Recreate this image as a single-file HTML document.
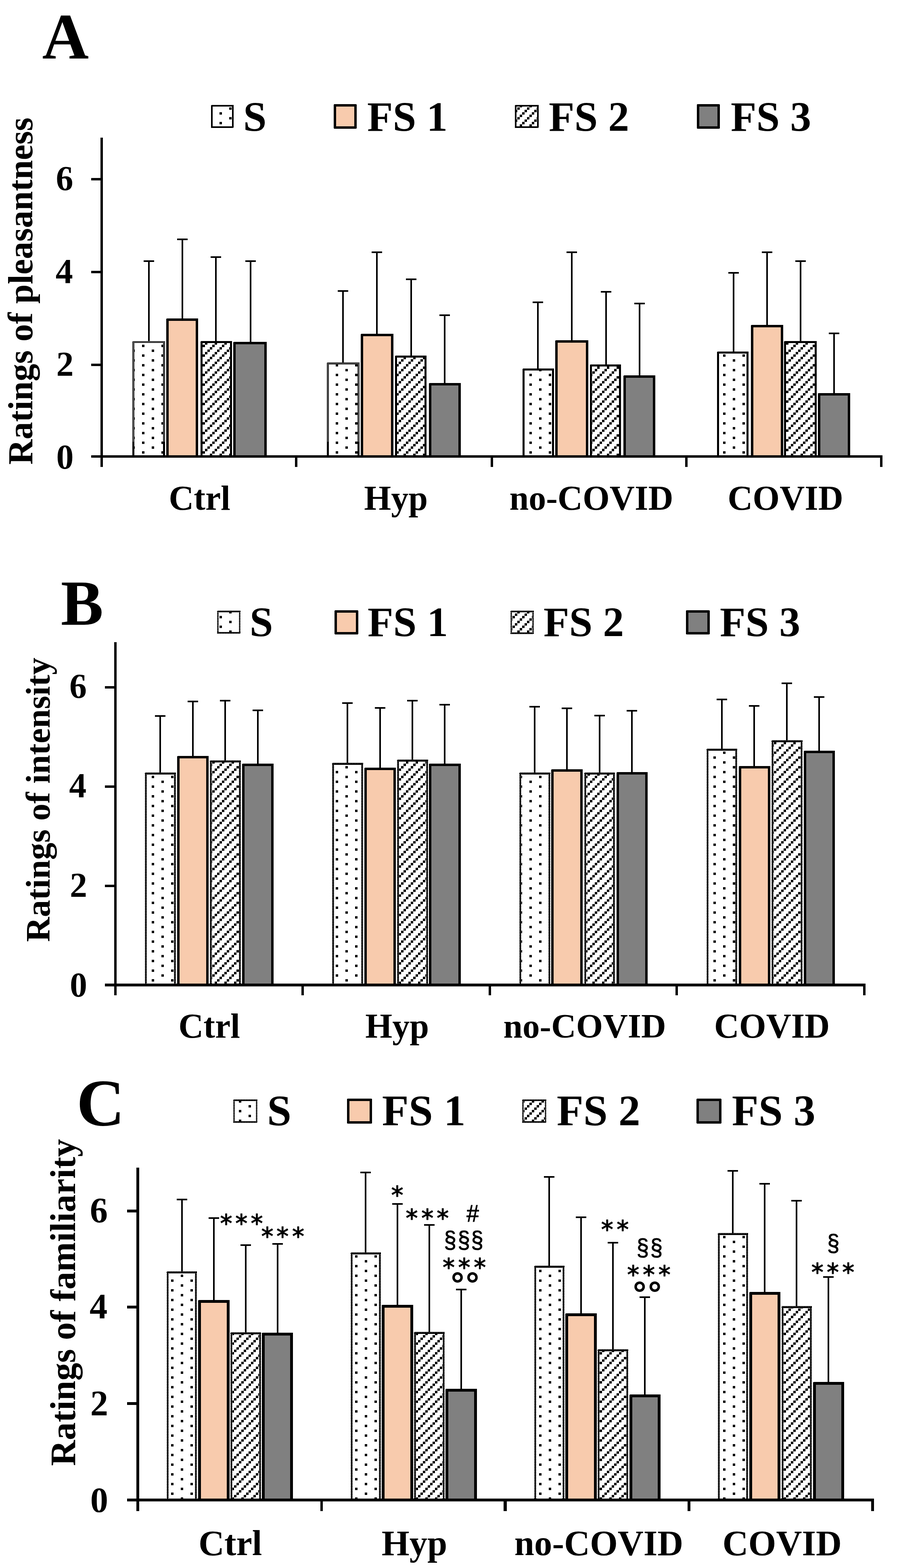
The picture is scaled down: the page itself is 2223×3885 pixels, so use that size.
<!DOCTYPE html>
<html lang="en"><head><meta charset="utf-8"><title>Ratings of pleasantness, intensity and familiarity</title>
<style>
html,body{margin:0;padding:0;background:#fff}
body{width:2223px;height:3885px}
svg{display:block}
text{font-family:"Liberation Serif","DejaVu Serif",serif;font-weight:bold;fill:#000}
.ann text,text.ann{font-family:"DejaVu Sans","Liberation Sans",sans-serif;font-weight:normal}
</style></head><body>
<svg width="2223" height="3885" viewBox="0 0 2223 3885" role="img" aria-label="Bar charts of ratings of pleasantness (A), intensity (B) and familiarity (C)">
<defs>
<pattern id="dots" x="16" y="14" width="48" height="24" patternUnits="userSpaceOnUse"><rect width="48" height="24" fill="#fff"/><rect x="0" y="0" width="6" height="6" fill="#000"/><rect x="24" y="12" width="6" height="6" fill="#000"/></pattern>
<pattern id="hatch" x="4" y="14" width="24" height="24" patternUnits="userSpaceOnUse"><rect width="24" height="24" fill="#fff"/><rect x="0" y="18" width="6" height="6" fill="#000"/><rect x="6" y="12" width="6" height="6" fill="#000"/><rect x="12" y="6" width="6" height="6" fill="#000"/><rect x="18" y="0" width="6" height="6" fill="#000"/></pattern>
<pattern id="dith" x="0" y="0" width="2" height="2" patternUnits="userSpaceOnUse"><rect width="2" height="2" fill="#000"/><rect x="1" y="1" width="1" height="1" fill="#fff"/></pattern>
</defs>
<rect width="2223" height="3885" fill="#fff"/>
<g shape-rendering="crispEdges">
<rect x="367" y="645" width="4" height="203" fill="#000"/>
<rect x="356" y="645" width="26" height="4" fill="#000"/>
<rect x="328" y="845" width="81" height="289" fill="url(#dith)" rx="2"/>
<rect x="333" y="850" width="71" height="279" fill="#fff"/>
<rect x="333" y="850" width="71" height="279" fill="url(#dots)"/>
<rect x="328" y="1095" width="5" height="39" fill="#000"/>
<rect x="404" y="1095" width="5" height="39" fill="#000"/>
<rect x="450" y="591" width="4" height="201" fill="#000"/>
<rect x="439" y="591" width="26" height="4" fill="#000"/>
<rect x="412" y="789" width="79" height="345" fill="#000" rx="2"/>
<rect x="418" y="795" width="67" height="333" fill="#fff"/>
<rect x="418" y="795" width="67" height="333" fill="#F8CBAD"/>
<rect x="533" y="635" width="4" height="213" fill="#000"/>
<rect x="522" y="635" width="26" height="4" fill="#000"/>
<rect x="497" y="845" width="78" height="289" fill="#000" rx="2"/>
<rect x="502" y="850" width="68" height="279" fill="#fff"/>
<rect x="502" y="850" width="68" height="279" fill="url(#hatch)"/>
<rect x="619" y="645" width="4" height="205" fill="#000"/>
<rect x="608" y="645" width="26" height="4" fill="#000"/>
<rect x="578" y="847" width="83" height="287" fill="#000" rx="2"/>
<rect x="584" y="853" width="71" height="275" fill="#fff"/>
<rect x="584" y="853" width="71" height="275" fill="#808080"/>
<rect x="848" y="719" width="4" height="182" fill="#000"/>
<rect x="837" y="719" width="26" height="4" fill="#000"/>
<rect x="810" y="898" width="81" height="236" fill="url(#dith)" rx="2"/>
<rect x="815" y="903" width="71" height="226" fill="#fff"/>
<rect x="815" y="903" width="71" height="226" fill="url(#dots)"/>
<rect x="810" y="1095" width="5" height="39" fill="#000"/>
<rect x="886" y="1095" width="5" height="39" fill="#000"/>
<rect x="932" y="623" width="4" height="207" fill="#000"/>
<rect x="921" y="623" width="26" height="4" fill="#000"/>
<rect x="894" y="827" width="81" height="307" fill="#000" rx="2"/>
<rect x="900" y="833" width="69" height="295" fill="#fff"/>
<rect x="900" y="833" width="69" height="295" fill="#F8CBAD"/>
<rect x="1017" y="690" width="4" height="194" fill="#000"/>
<rect x="1006" y="690" width="26" height="4" fill="#000"/>
<rect x="979" y="881" width="78" height="253" fill="#000" rx="2"/>
<rect x="984" y="886" width="68" height="243" fill="#fff"/>
<rect x="984" y="886" width="68" height="243" fill="url(#hatch)"/>
<rect x="1100" y="779" width="4" height="173" fill="#000"/>
<rect x="1089" y="779" width="26" height="4" fill="#000"/>
<rect x="1063" y="949" width="79" height="185" fill="#000" rx="2"/>
<rect x="1069" y="955" width="67" height="173" fill="#fff"/>
<rect x="1069" y="955" width="67" height="173" fill="#808080"/>
<rect x="1331" y="747" width="4" height="169" fill="#000"/>
<rect x="1320" y="747" width="26" height="4" fill="#000"/>
<rect x="1295" y="913" width="78" height="221" fill="#000" rx="2"/>
<rect x="1300" y="918" width="68" height="211" fill="#fff"/>
<rect x="1300" y="918" width="68" height="211" fill="url(#dots)"/>
<rect x="1415" y="623" width="4" height="223" fill="#000"/>
<rect x="1404" y="623" width="26" height="4" fill="#000"/>
<rect x="1376" y="843" width="82" height="291" fill="#000" rx="2"/>
<rect x="1382" y="849" width="70" height="279" fill="#fff"/>
<rect x="1382" y="849" width="70" height="279" fill="#F8CBAD"/>
<rect x="1500" y="721" width="4" height="185" fill="#000"/>
<rect x="1489" y="721" width="26" height="4" fill="#000"/>
<rect x="1462" y="903" width="77" height="231" fill="#000" rx="2"/>
<rect x="1467" y="908" width="67" height="221" fill="#fff"/>
<rect x="1467" y="908" width="67" height="221" fill="url(#hatch)"/>
<rect x="1583" y="750" width="4" height="183" fill="#000"/>
<rect x="1572" y="750" width="26" height="4" fill="#000"/>
<rect x="1545" y="930" width="79" height="204" fill="#000" rx="2"/>
<rect x="1551" y="936" width="67" height="192" fill="#fff"/>
<rect x="1551" y="936" width="67" height="192" fill="#808080"/>
<rect x="1816" y="674" width="4" height="200" fill="#000"/>
<rect x="1805" y="674" width="26" height="4" fill="#000"/>
<rect x="1777" y="871" width="78" height="263" fill="#000" rx="2"/>
<rect x="1782" y="876" width="68" height="253" fill="#fff"/>
<rect x="1782" y="876" width="68" height="253" fill="url(#dots)"/>
<rect x="1899" y="623" width="4" height="185" fill="#000"/>
<rect x="1888" y="623" width="26" height="4" fill="#000"/>
<rect x="1861" y="805" width="80" height="329" fill="#000" rx="2"/>
<rect x="1867" y="811" width="68" height="317" fill="#fff"/>
<rect x="1867" y="811" width="68" height="317" fill="#F8CBAD"/>
<rect x="1982" y="645" width="4" height="203" fill="#000"/>
<rect x="1971" y="645" width="26" height="4" fill="#000"/>
<rect x="1943" y="845" width="81" height="289" fill="#000" rx="2"/>
<rect x="1948" y="850" width="71" height="279" fill="#fff"/>
<rect x="1948" y="850" width="71" height="279" fill="url(#hatch)"/>
<rect x="2065" y="824" width="4" height="153" fill="#000"/>
<rect x="2054" y="824" width="26" height="4" fill="#000"/>
<rect x="2027" y="974" width="80" height="160" fill="#000" rx="2"/>
<rect x="2033" y="980" width="68" height="148" fill="#fff"/>
<rect x="2033" y="980" width="68" height="148" fill="#808080"/>
<rect x="249" y="341" width="6" height="816" fill="#000"/>
<rect x="226" y="1128" width="1961" height="6" fill="#000"/>
<rect x="226" y="441" width="24" height="6" fill="#000"/>
<rect x="226" y="671" width="24" height="6" fill="#000"/>
<rect x="226" y="901" width="24" height="6" fill="#000"/>
<rect x="731" y="1128" width="6" height="29" fill="#000"/>
<rect x="1216" y="1128" width="6" height="29" fill="#000"/>
<rect x="1698" y="1128" width="6" height="29" fill="#000"/>
<rect x="2181" y="1128" width="6" height="29" fill="#000"/>
<text x="138.58" y="470.60" font-size="86">6</text>
<text x="137.72" y="700.60" font-size="86">4</text>
<text x="139.44" y="930.60" font-size="86">2</text>
<text x="139.44" y="1160.60" font-size="86">0</text>
<text x="418.20" y="1263.00" font-size="86">Ctrl</text>
<text x="902.28" y="1263.00" font-size="86">Hyp</text>
<text x="1262.42" y="1263.00" font-size="86">no-COVID</text>
<text x="1803.20" y="1263.00" font-size="86">COVID</text>
<text transform="translate(80.20 1151.33) rotate(-90)" font-size="86.5">Ratings of pleasantness</text>
<text x="104.40" y="145.00" font-size="160">A</text>
<rect x="523" y="260" width="56" height="57" fill="#000" rx="2"/>
<rect x="527" y="264" width="48" height="49" fill="#fff"/>
<rect x="527" y="264" width="48" height="49" fill="url(#dots)"/>
<text x="602.80" y="324.00" font-size="104">S</text>
<rect x="827" y="258" width="57" height="61" fill="#000" rx="3"/>
<rect x="833" y="264" width="45" height="49" fill="#fff"/>
<rect x="833" y="264" width="45" height="49" fill="#F8CBAD"/>
<text x="909.92" y="324.00" font-size="104">FS 1</text>
<rect x="1276" y="260" width="59" height="57" fill="#000" rx="2"/>
<rect x="1280" y="264" width="51" height="49" fill="#fff"/>
<rect x="1280" y="264" width="51" height="49" fill="url(#hatch)"/>
<text x="1359.92" y="324.00" font-size="104">FS 2</text>
<rect x="1727" y="258" width="57" height="61" fill="#000" rx="3"/>
<rect x="1733" y="264" width="45" height="49" fill="#fff"/>
<rect x="1733" y="264" width="45" height="49" fill="#808080"/>
<text x="1810.92" y="324.00" font-size="104">FS 3</text>
<rect x="395" y="1772" width="4" height="145" fill="#000"/>
<rect x="384" y="1772" width="26" height="4" fill="#000"/>
<rect x="359" y="1914" width="77" height="530" fill="#000" rx="2"/>
<rect x="364" y="1919" width="67" height="520" fill="#fff"/>
<rect x="364" y="1919" width="67" height="520" fill="url(#dots)"/>
<path d="M360.5 1915.5H434.5" fill="none" stroke="#fff" stroke-width="1" stroke-dasharray="1 3"/>
<path d="M359.5 1919V2444M363.5 1919V2444M431.5 1919V2444M435.5 1919V2444" fill="none" stroke="#fff" stroke-width="1" stroke-dasharray="1.5 2.5"/>
<rect x="476" y="1736" width="4" height="140" fill="#000"/>
<rect x="465" y="1736" width="26" height="4" fill="#000"/>
<rect x="439" y="1873" width="78" height="571" fill="#000" rx="2"/>
<rect x="445" y="1879" width="66" height="559" fill="#fff"/>
<rect x="445" y="1879" width="66" height="559" fill="#F8CBAD"/>
<rect x="556" y="1734" width="4" height="153" fill="#000"/>
<rect x="545" y="1734" width="26" height="4" fill="#000"/>
<rect x="520" y="1884" width="77" height="560" fill="#000" rx="2"/>
<rect x="525" y="1889" width="67" height="550" fill="#fff"/>
<rect x="525" y="1889" width="67" height="550" fill="url(#hatch)"/>
<path d="M521.5 1885.5H595.5" fill="none" stroke="#fff" stroke-width="1" stroke-dasharray="1 3"/>
<path d="M520.5 1889V2444M524.5 1889V2444M592.5 1889V2444M596.5 1889V2444" fill="none" stroke="#fff" stroke-width="1" stroke-dasharray="1.5 2.5"/>
<rect x="637" y="1758" width="4" height="137" fill="#000"/>
<rect x="626" y="1758" width="26" height="4" fill="#000"/>
<rect x="600" y="1892" width="78" height="552" fill="#000" rx="2"/>
<rect x="606" y="1898" width="66" height="540" fill="#fff"/>
<rect x="606" y="1898" width="66" height="540" fill="#808080"/>
<rect x="859" y="1740" width="4" height="153" fill="#000"/>
<rect x="848" y="1740" width="26" height="4" fill="#000"/>
<rect x="823" y="1890" width="77" height="554" fill="#000" rx="2"/>
<rect x="828" y="1895" width="67" height="544" fill="#fff"/>
<rect x="828" y="1895" width="67" height="544" fill="url(#dots)"/>
<path d="M824.5 1891.5H898.5" fill="none" stroke="#fff" stroke-width="1" stroke-dasharray="1 3"/>
<path d="M823.5 1895V2444M827.5 1895V2444M895.5 1895V2444M899.5 1895V2444" fill="none" stroke="#fff" stroke-width="1" stroke-dasharray="1.5 2.5"/>
<rect x="940" y="1752" width="4" height="153" fill="#000"/>
<rect x="929" y="1752" width="26" height="4" fill="#000"/>
<rect x="903" y="1902" width="78" height="542" fill="#000" rx="2"/>
<rect x="909" y="1908" width="66" height="530" fill="#fff"/>
<rect x="909" y="1908" width="66" height="530" fill="#F8CBAD"/>
<rect x="1020" y="1734" width="4" height="151" fill="#000"/>
<rect x="1009" y="1734" width="26" height="4" fill="#000"/>
<rect x="984" y="1882" width="77" height="562" fill="#000" rx="2"/>
<rect x="989" y="1887" width="67" height="552" fill="#fff"/>
<rect x="989" y="1887" width="67" height="552" fill="url(#hatch)"/>
<path d="M985.5 1883.5H1059.5" fill="none" stroke="#fff" stroke-width="1" stroke-dasharray="1 3"/>
<path d="M984.5 1887V2444M988.5 1887V2444M1056.5 1887V2444M1060.5 1887V2444" fill="none" stroke="#fff" stroke-width="1" stroke-dasharray="1.5 2.5"/>
<rect x="1100" y="1744" width="4" height="151" fill="#000"/>
<rect x="1089" y="1744" width="26" height="4" fill="#000"/>
<rect x="1063" y="1892" width="79" height="552" fill="#000" rx="2"/>
<rect x="1069" y="1898" width="67" height="540" fill="#fff"/>
<rect x="1069" y="1898" width="67" height="540" fill="#808080"/>
<rect x="1323" y="1749" width="4" height="168" fill="#000"/>
<rect x="1312" y="1749" width="26" height="4" fill="#000"/>
<rect x="1287" y="1914" width="77" height="530" fill="#000" rx="2"/>
<rect x="1292" y="1919" width="67" height="520" fill="#fff"/>
<rect x="1292" y="1919" width="67" height="520" fill="url(#dots)"/>
<path d="M1288.5 1915.5H1362.5" fill="none" stroke="#fff" stroke-width="1" stroke-dasharray="1 3"/>
<path d="M1287.5 1919V2444M1291.5 1919V2444M1359.5 1919V2444M1363.5 1919V2444" fill="none" stroke="#fff" stroke-width="1" stroke-dasharray="1.5 2.5"/>
<rect x="1403" y="1753" width="4" height="156" fill="#000"/>
<rect x="1392" y="1753" width="26" height="4" fill="#000"/>
<rect x="1366" y="1906" width="78" height="538" fill="#000" rx="2"/>
<rect x="1372" y="1912" width="66" height="526" fill="#fff"/>
<rect x="1372" y="1912" width="66" height="526" fill="#F8CBAD"/>
<rect x="1484" y="1771" width="4" height="146" fill="#000"/>
<rect x="1473" y="1771" width="26" height="4" fill="#000"/>
<rect x="1448" y="1914" width="76" height="530" fill="#000" rx="2"/>
<rect x="1453" y="1919" width="66" height="520" fill="#fff"/>
<rect x="1453" y="1919" width="66" height="520" fill="url(#hatch)"/>
<path d="M1449.5 1915.5H1522.5" fill="none" stroke="#fff" stroke-width="1" stroke-dasharray="1 3"/>
<path d="M1448.5 1919V2444M1452.5 1919V2444M1519.5 1919V2444M1523.5 1919V2444" fill="none" stroke="#fff" stroke-width="1" stroke-dasharray="1.5 2.5"/>
<rect x="1564" y="1759" width="4" height="157" fill="#000"/>
<rect x="1553" y="1759" width="26" height="4" fill="#000"/>
<rect x="1528" y="1913" width="77" height="531" fill="#000" rx="2"/>
<rect x="1534" y="1919" width="65" height="519" fill="#fff"/>
<rect x="1534" y="1919" width="65" height="519" fill="#808080"/>
<rect x="1787" y="1731" width="4" height="127" fill="#000"/>
<rect x="1776" y="1731" width="26" height="4" fill="#000"/>
<rect x="1751" y="1855" width="76" height="589" fill="#000" rx="2"/>
<rect x="1756" y="1860" width="66" height="579" fill="#fff"/>
<rect x="1756" y="1860" width="66" height="579" fill="url(#dots)"/>
<path d="M1752.5 1856.5H1825.5" fill="none" stroke="#fff" stroke-width="1" stroke-dasharray="1 3"/>
<path d="M1751.5 1860V2444M1755.5 1860V2444M1822.5 1860V2444M1826.5 1860V2444" fill="none" stroke="#fff" stroke-width="1" stroke-dasharray="1.5 2.5"/>
<rect x="1867" y="1747" width="4" height="154" fill="#000"/>
<rect x="1856" y="1747" width="26" height="4" fill="#000"/>
<rect x="1831" y="1898" width="78" height="546" fill="#000" rx="2"/>
<rect x="1837" y="1904" width="66" height="534" fill="#fff"/>
<rect x="1837" y="1904" width="66" height="534" fill="#F8CBAD"/>
<rect x="1948" y="1691" width="4" height="146" fill="#000"/>
<rect x="1937" y="1691" width="26" height="4" fill="#000"/>
<rect x="1912" y="1834" width="77" height="610" fill="#000" rx="2"/>
<rect x="1917" y="1839" width="67" height="600" fill="#fff"/>
<rect x="1917" y="1839" width="67" height="600" fill="url(#hatch)"/>
<path d="M1913.5 1835.5H1987.5" fill="none" stroke="#fff" stroke-width="1" stroke-dasharray="1 3"/>
<path d="M1912.5 1839V2444M1916.5 1839V2444M1984.5 1839V2444M1988.5 1839V2444" fill="none" stroke="#fff" stroke-width="1" stroke-dasharray="1.5 2.5"/>
<rect x="2028" y="1725" width="4" height="138" fill="#000"/>
<rect x="2017" y="1725" width="26" height="4" fill="#000"/>
<rect x="1992" y="1860" width="77" height="584" fill="#000" rx="2"/>
<rect x="1998" y="1866" width="65" height="572" fill="#fff"/>
<rect x="1998" y="1866" width="65" height="572" fill="#808080"/>
<rect x="283" y="1591" width="6" height="875" fill="#000"/>
<rect x="260" y="2437" width="1885" height="7" fill="#000"/>
<rect x="260" y="1700" width="24" height="6" fill="#000"/>
<rect x="260" y="1946" width="24" height="6" fill="#000"/>
<rect x="260" y="2192" width="24" height="6" fill="#000"/>
<rect x="747" y="2437" width="6" height="29" fill="#000"/>
<rect x="1211" y="2437" width="6" height="29" fill="#000"/>
<rect x="1674" y="2437" width="6" height="29" fill="#000"/>
<rect x="2139" y="2437" width="6" height="29" fill="#000"/>
<text x="172.08" y="1729.20" font-size="86">6</text>
<text x="171.22" y="1975.00" font-size="86">4</text>
<text x="172.94" y="2221.60" font-size="86">2</text>
<text x="172.94" y="2468.60" font-size="86">0</text>
<text x="442.20" y="2570.70" font-size="86">Ctrl</text>
<text x="905.28" y="2570.70" font-size="86">Hyp</text>
<text x="1247.44" y="2570.70" font-size="85.4">no-COVID</text>
<text x="1769.70" y="2570.70" font-size="86">COVID</text>
<text transform="translate(123.10 2333.80) rotate(-90)" font-size="85.1">Ratings of intensity</text>
<text x="150.84" y="1547.50" font-size="158">B</text>
<rect x="538" y="1513" width="58" height="57" fill="#000" rx="2"/>
<rect x="542" y="1517" width="50" height="49" fill="#fff"/>
<rect x="542" y="1517" width="50" height="49" fill="url(#dots)"/>
<path d="M539.5 1514.5H594.5M539.5 1568.5H594.5" fill="none" stroke="#fff" stroke-width="1" stroke-dasharray="1 3"/>
<path d="M538.5 1517V1566M541.5 1517V1566M592.5 1517V1566M595.5 1517V1566" fill="none" stroke="#fff" stroke-width="1" stroke-dasharray="1.5 2.5"/>
<text x="618.80" y="1576.00" font-size="104">S</text>
<rect x="829" y="1512" width="59" height="60" fill="#000" rx="3"/>
<rect x="835" y="1518" width="47" height="48" fill="#fff"/>
<rect x="835" y="1518" width="47" height="48" fill="#F8CBAD"/>
<text x="910.92" y="1576.00" font-size="104">FS 1</text>
<rect x="1265" y="1513" width="58" height="58" fill="#000" rx="2"/>
<rect x="1269" y="1517" width="50" height="50" fill="#fff"/>
<rect x="1269" y="1517" width="50" height="50" fill="url(#hatch)"/>
<path d="M1266.5 1514.5H1321.5M1266.5 1569.5H1321.5" fill="none" stroke="#fff" stroke-width="1" stroke-dasharray="1 3"/>
<path d="M1265.5 1517V1567M1268.5 1517V1567M1319.5 1517V1567M1322.5 1517V1567" fill="none" stroke="#fff" stroke-width="1" stroke-dasharray="1.5 2.5"/>
<text x="1346.92" y="1576.00" font-size="104">FS 2</text>
<rect x="1700" y="1512" width="59" height="60" fill="#000" rx="3"/>
<rect x="1706" y="1518" width="47" height="48" fill="#fff"/>
<rect x="1706" y="1518" width="47" height="48" fill="#808080"/>
<text x="1783.92" y="1576.00" font-size="104">FS 3</text>
<rect x="449" y="2970" width="4" height="183" fill="#000"/>
<rect x="438" y="2970" width="26" height="4" fill="#000"/>
<rect x="413" y="3150" width="75" height="570" fill="#000" rx="2"/>
<rect x="418" y="3155" width="65" height="560" fill="#fff"/>
<rect x="418" y="3155" width="65" height="560" fill="url(#dots)"/>
<path d="M414.5 3151.5H486.5" fill="none" stroke="#fff" stroke-width="1" stroke-dasharray="1 3"/>
<path d="M413.5 3155V3720M417.5 3155V3720M483.5 3155V3720M487.5 3155V3720" fill="none" stroke="#fff" stroke-width="1" stroke-dasharray="1.5 2.5"/>
<rect x="528" y="3016" width="4" height="208" fill="#000"/>
<rect x="517" y="3016" width="26" height="4" fill="#000"/>
<rect x="491" y="3221" width="78" height="499" fill="#000" rx="2"/>
<rect x="498" y="3228" width="64" height="485" fill="#fff"/>
<rect x="498" y="3228" width="64" height="485" fill="#F8CBAD"/>
<rect x="607" y="3083" width="4" height="221" fill="#000"/>
<rect x="596" y="3083" width="26" height="4" fill="#000"/>
<rect x="571" y="3301" width="76" height="419" fill="#000" rx="2"/>
<rect x="576" y="3306" width="66" height="409" fill="#fff"/>
<rect x="576" y="3306" width="66" height="409" fill="url(#hatch)"/>
<path d="M572.5 3302.5H645.5" fill="none" stroke="#fff" stroke-width="1" stroke-dasharray="1 3"/>
<path d="M571.5 3306V3720M575.5 3306V3720M642.5 3306V3720M646.5 3306V3720" fill="none" stroke="#fff" stroke-width="1" stroke-dasharray="1.5 2.5"/>
<rect x="686" y="3080" width="4" height="225" fill="#000"/>
<rect x="675" y="3080" width="26" height="4" fill="#000"/>
<rect x="649" y="3302" width="77" height="418" fill="#000" rx="2"/>
<rect x="656" y="3309" width="63" height="404" fill="#fff"/>
<rect x="656" y="3309" width="63" height="404" fill="#808080"/>
<rect x="904" y="2903" width="4" height="203" fill="#000"/>
<rect x="893" y="2903" width="26" height="4" fill="#000"/>
<rect x="869" y="3103" width="75" height="617" fill="#000" rx="2"/>
<rect x="874" y="3108" width="65" height="607" fill="#fff"/>
<rect x="874" y="3108" width="65" height="607" fill="url(#dots)"/>
<path d="M870.5 3104.5H942.5" fill="none" stroke="#fff" stroke-width="1" stroke-dasharray="1 3"/>
<path d="M869.5 3108V3720M873.5 3108V3720M939.5 3108V3720M943.5 3108V3720" fill="none" stroke="#fff" stroke-width="1" stroke-dasharray="1.5 2.5"/>
<rect x="983" y="2981" width="4" height="255" fill="#000"/>
<rect x="972" y="2981" width="26" height="4" fill="#000"/>
<rect x="946" y="3233" width="78" height="487" fill="#000" rx="2"/>
<rect x="953" y="3240" width="64" height="473" fill="#fff"/>
<rect x="953" y="3240" width="64" height="473" fill="#F8CBAD"/>
<rect x="1062" y="3033" width="4" height="270" fill="#000"/>
<rect x="1051" y="3033" width="26" height="4" fill="#000"/>
<rect x="1026" y="3300" width="76" height="420" fill="#000" rx="2"/>
<rect x="1031" y="3305" width="66" height="410" fill="#fff"/>
<rect x="1031" y="3305" width="66" height="410" fill="url(#hatch)"/>
<path d="M1027.5 3301.5H1100.5" fill="none" stroke="#fff" stroke-width="1" stroke-dasharray="1 3"/>
<path d="M1026.5 3305V3720M1030.5 3305V3720M1097.5 3305V3720M1101.5 3305V3720" fill="none" stroke="#fff" stroke-width="1" stroke-dasharray="1.5 2.5"/>
<rect x="1141" y="3193" width="4" height="251" fill="#000"/>
<rect x="1130" y="3193" width="26" height="4" fill="#000"/>
<rect x="1104" y="3441" width="78" height="279" fill="#000" rx="2"/>
<rect x="1111" y="3448" width="64" height="265" fill="#fff"/>
<rect x="1111" y="3448" width="64" height="265" fill="#808080"/>
<rect x="1359" y="2914" width="4" height="225" fill="#000"/>
<rect x="1348" y="2914" width="26" height="4" fill="#000"/>
<rect x="1324" y="3136" width="75" height="584" fill="#000" rx="2"/>
<rect x="1329" y="3141" width="65" height="574" fill="#fff"/>
<rect x="1329" y="3141" width="65" height="574" fill="url(#dots)"/>
<path d="M1325.5 3137.5H1397.5" fill="none" stroke="#fff" stroke-width="1" stroke-dasharray="1 3"/>
<path d="M1324.5 3141V3720M1328.5 3141V3720M1394.5 3141V3720M1398.5 3141V3720" fill="none" stroke="#fff" stroke-width="1" stroke-dasharray="1.5 2.5"/>
<rect x="1438" y="3014" width="4" height="243" fill="#000"/>
<rect x="1427" y="3014" width="26" height="4" fill="#000"/>
<rect x="1401" y="3254" width="78" height="466" fill="#000" rx="2"/>
<rect x="1408" y="3261" width="64" height="452" fill="#fff"/>
<rect x="1408" y="3261" width="64" height="452" fill="#F8CBAD"/>
<rect x="1517" y="3077" width="4" height="269" fill="#000"/>
<rect x="1506" y="3077" width="26" height="4" fill="#000"/>
<rect x="1481" y="3343" width="76" height="377" fill="#000" rx="2"/>
<rect x="1486" y="3348" width="66" height="367" fill="#fff"/>
<rect x="1486" y="3348" width="66" height="367" fill="url(#hatch)"/>
<path d="M1482.5 3344.5H1555.5" fill="none" stroke="#fff" stroke-width="1" stroke-dasharray="1 3"/>
<path d="M1481.5 3348V3720M1485.5 3348V3720M1552.5 3348V3720M1556.5 3348V3720" fill="none" stroke="#fff" stroke-width="1" stroke-dasharray="1.5 2.5"/>
<rect x="1596" y="3212" width="4" height="246" fill="#000"/>
<rect x="1585" y="3212" width="26" height="4" fill="#000"/>
<rect x="1560" y="3455" width="77" height="265" fill="#000" rx="2"/>
<rect x="1567" y="3462" width="63" height="251" fill="#fff"/>
<rect x="1567" y="3462" width="63" height="251" fill="#808080"/>
<rect x="1814" y="2899" width="4" height="159" fill="#000"/>
<rect x="1803" y="2899" width="26" height="4" fill="#000"/>
<rect x="1779" y="3055" width="75" height="665" fill="#000" rx="2"/>
<rect x="1784" y="3060" width="65" height="655" fill="#fff"/>
<rect x="1784" y="3060" width="65" height="655" fill="url(#dots)"/>
<path d="M1780.5 3056.5H1852.5" fill="none" stroke="#fff" stroke-width="1" stroke-dasharray="1 3"/>
<path d="M1779.5 3060V3720M1783.5 3060V3720M1849.5 3060V3720M1853.5 3060V3720" fill="none" stroke="#fff" stroke-width="1" stroke-dasharray="1.5 2.5"/>
<rect x="1893" y="2931" width="4" height="273" fill="#000"/>
<rect x="1882" y="2931" width="26" height="4" fill="#000"/>
<rect x="1857" y="3201" width="77" height="519" fill="#000" rx="2"/>
<rect x="1864" y="3208" width="63" height="505" fill="#fff"/>
<rect x="1864" y="3208" width="63" height="505" fill="#F8CBAD"/>
<rect x="1972" y="2973" width="4" height="266" fill="#000"/>
<rect x="1961" y="2973" width="26" height="4" fill="#000"/>
<rect x="1937" y="3236" width="75" height="484" fill="#000" rx="2"/>
<rect x="1942" y="3241" width="65" height="474" fill="#fff"/>
<rect x="1942" y="3241" width="65" height="474" fill="url(#hatch)"/>
<path d="M1938.5 3237.5H2010.5" fill="none" stroke="#fff" stroke-width="1" stroke-dasharray="1 3"/>
<path d="M1937.5 3241V3720M1941.5 3241V3720M2007.5 3241V3720M2011.5 3241V3720" fill="none" stroke="#fff" stroke-width="1" stroke-dasharray="1.5 2.5"/>
<rect x="2051" y="3162" width="4" height="265" fill="#000"/>
<rect x="2040" y="3162" width="26" height="4" fill="#000"/>
<rect x="2015" y="3424" width="77" height="296" fill="#000" rx="2"/>
<rect x="2022" y="3431" width="63" height="282" fill="#fff"/>
<rect x="2022" y="3431" width="63" height="282" fill="#808080"/>
<rect x="338" y="2893" width="7" height="851" fill="#000"/>
<rect x="315" y="3713" width="1851" height="7" fill="#000"/>
<rect x="315" y="2997" width="24" height="7" fill="#000"/>
<rect x="315" y="3235" width="24" height="7" fill="#000"/>
<rect x="315" y="3474" width="24" height="7" fill="#000"/>
<rect x="794" y="3713" width="6" height="31" fill="#000"/>
<rect x="1248" y="3713" width="8" height="31" fill="#000"/>
<rect x="1704" y="3713" width="7" height="31" fill="#000"/>
<rect x="2159" y="3713" width="7" height="31" fill="#000"/>
<text x="222.86" y="3028.40" font-size="88.6">6</text>
<text x="221.97" y="3266.40" font-size="88.6">4</text>
<text x="223.74" y="3506.40" font-size="88.6">2</text>
<text x="223.74" y="3745.90" font-size="88.6">0</text>
<text x="492.07" y="3852.70" font-size="88.6">Ctrl</text>
<text x="945.73" y="3852.70" font-size="88.6">Hyp</text>
<text x="1274.84" y="3852.70" font-size="88.6">no-COVID</text>
<text x="1790.57" y="3852.70" font-size="88.6">COVID</text>
<text transform="translate(186.40 3631.97) rotate(-90)" font-size="88.36">Ratings of familiarity</text>
<text x="189.75" y="2788.00" font-size="165">C</text>
<rect x="578" y="2724" width="60" height="58" fill="#000" rx="2"/>
<rect x="582" y="2728" width="52" height="50" fill="#fff"/>
<rect x="582" y="2728" width="52" height="50" fill="url(#dots)"/>
<path d="M579.5 2725.5H636.5M579.5 2780.5H636.5" fill="none" stroke="#fff" stroke-width="1" stroke-dasharray="1 3"/>
<path d="M578.5 2728V2778M581.5 2728V2778M634.5 2728V2778M637.5 2728V2778" fill="none" stroke="#fff" stroke-width="1" stroke-dasharray="1.5 2.5"/>
<text x="662.10" y="2788.00" font-size="108">S</text>
<rect x="860" y="2722" width="62" height="62" fill="#000" rx="3"/>
<rect x="866" y="2728" width="50" height="50" fill="#fff"/>
<rect x="866" y="2728" width="50" height="50" fill="#F8CBAD"/>
<text x="946.84" y="2788.00" font-size="108">FS 1</text>
<rect x="1294" y="2724" width="60" height="58" fill="#000" rx="2"/>
<rect x="1298" y="2728" width="52" height="50" fill="#fff"/>
<rect x="1298" y="2728" width="52" height="50" fill="url(#hatch)"/>
<path d="M1295.5 2725.5H1352.5M1295.5 2780.5H1352.5" fill="none" stroke="#fff" stroke-width="1" stroke-dasharray="1 3"/>
<path d="M1294.5 2728V2778M1297.5 2728V2778M1350.5 2728V2778M1353.5 2728V2778" fill="none" stroke="#fff" stroke-width="1" stroke-dasharray="1.5 2.5"/>
<text x="1379.84" y="2788.00" font-size="108">FS 2</text>
<rect x="1726" y="2722" width="62" height="62" fill="#000" rx="3"/>
<rect x="1732" y="2728" width="50" height="50" fill="#fff"/>
<rect x="1732" y="2728" width="50" height="50" fill="#808080"/>
<text x="1813.84" y="2788.00" font-size="108">FS 3</text>
</g>
<text class="ann" x="545.40 583.30 621.40" y="3051.50" font-size="60" stroke="#000" stroke-width="1.5" stroke-linejoin="round" style="font-family:'DejaVu Sans',sans-serif;font-weight:normal">***</text>
<text class="ann" x="647.40 685.30 724.00" y="3083.50" font-size="60" stroke="#000" stroke-width="1.5" stroke-linejoin="round" style="font-family:'DejaVu Sans',sans-serif;font-weight:normal">***</text>
<text class="ann" x="969.40" y="2982.30" font-size="60" stroke="#000" stroke-width="1.5" stroke-linejoin="round" style="font-family:'DejaVu Sans',sans-serif;font-weight:normal">*</text>
<text class="ann" x="1005.40 1044.30 1082.30" y="3039.30" font-size="60" stroke="#000" stroke-width="1.5" stroke-linejoin="round" style="font-family:'DejaVu Sans',sans-serif;font-weight:normal">***</text>
<text class="ann" transform="translate(1156.27 3027.25) scale(0.92 1)" x="0.00" y="0" font-size="60" stroke="#000" stroke-width="1.2" stroke-linejoin="round" style="font-family:'Liberation Sans',sans-serif;font-weight:normal">#</text>
<text class="ann" transform="translate(1100.34 3092.20) scale(0.92 1)" x="0.00 36.96 72.72" y="0" font-size="60" stroke="#000" stroke-width="1.2" stroke-linejoin="round" style="font-family:'Liberation Sans',sans-serif;font-weight:normal">§§§</text>
<text class="ann" x="1097.10 1135.40 1174.30" y="3160.55" font-size="60" stroke="#000" stroke-width="1.5" stroke-linejoin="round" style="font-family:'DejaVu Sans',sans-serif;font-weight:normal">***</text>
<text class="ann" x="1113.90 1151.00" y="3212.30" font-size="80" style="font-family:'DejaVu Sans',sans-serif;font-weight:bold">°°</text>
<text class="ann" x="1489.70 1528.30" y="3067.15" font-size="60" stroke="#000" stroke-width="1.5" stroke-linejoin="round" style="font-family:'DejaVu Sans',sans-serif;font-weight:normal">**</text>
<text class="ann" transform="translate(1577.54 3110.50) scale(0.92 1)" x="0.00 36.96" y="0" font-size="60" stroke="#000" stroke-width="1.2" stroke-linejoin="round" style="font-family:'Liberation Sans',sans-serif;font-weight:normal">§§</text>
<text class="ann" x="1554.20 1593.00 1631.80" y="3179.40" font-size="60" stroke="#000" stroke-width="1.5" stroke-linejoin="round" style="font-family:'DejaVu Sans',sans-serif;font-weight:normal">***</text>
<text class="ann" x="1565.20 1602.80" y="3234.80" font-size="80" style="font-family:'DejaVu Sans',sans-serif;font-weight:bold">°°</text>
<text class="ann" transform="translate(2049.79 3100.00) scale(0.92 1)" x="0.00" y="0" font-size="60" stroke="#000" stroke-width="1.2" stroke-linejoin="round" style="font-family:'Liberation Sans',sans-serif;font-weight:normal">§</text>
<text class="ann" x="2010.70 2049.00 2087.30" y="3173.15" font-size="60" stroke="#000" stroke-width="1.5" stroke-linejoin="round" style="font-family:'DejaVu Sans',sans-serif;font-weight:normal">***</text>
</svg></body></html>
